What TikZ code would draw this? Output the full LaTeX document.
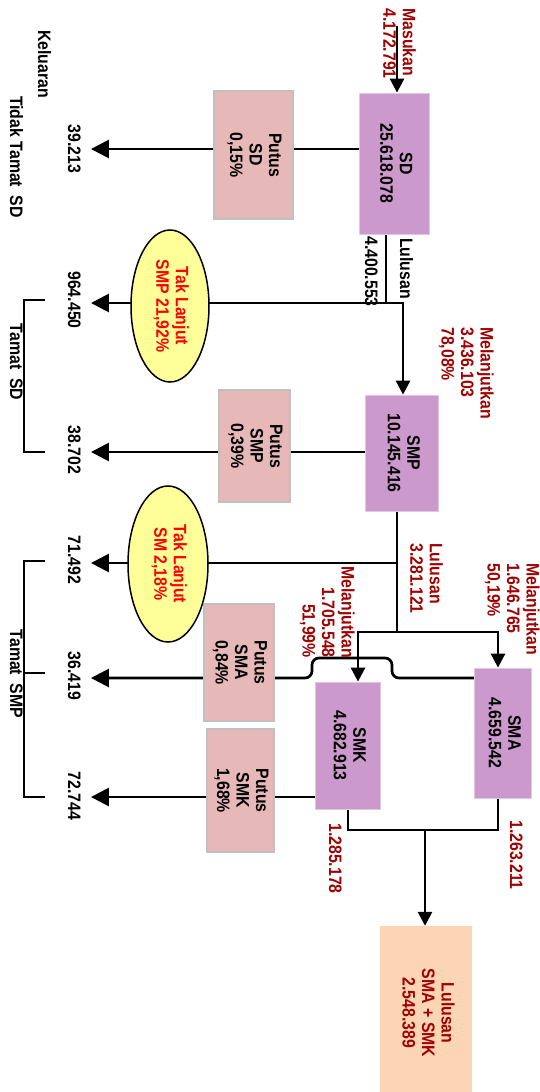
\documentclass[tikz,border=0pt]{standalone}
\usepackage{fontspec}
\setmainfont{Liberation Sans}[FakeStretch=0.88]
\usepackage{graphicx}
\usetikzlibrary{arrows.meta,shapes.geometric}

\definecolor{procfill}{HTML}{CC99CC}
\definecolor{procline}{HTML}{E2C6E2}
\definecolor{putfill}{HTML}{E6B8B7}
\definecolor{putline}{HTML}{C0C0C0}
\definecolor{takfill}{HTML}{FFFF99}
\definecolor{endfill}{HTML}{FCD5B4}
\definecolor{darkred}{HTML}{A00000}

\newcommand{\fs}{\bfseries\fontsize{18}{19.5}\selectfont}
\newcommand{\vtxt}[2][c]{\rotatebox{-90}{\begin{tabular}{@{}#1@{}}#2\end{tabular}}}

\pgfdeclarelayer{bg}
\pgfsetlayers{bg,main}

\tikzset{
  proc/.style={draw=procline, fill=procfill, line width=0.8pt},
  putus/.style={draw=putline, fill=putfill, line width=2pt},
  tak/.style={ellipse, draw, fill=takfill, line width=1.5pt, text=red},
  flow/.style={line width=2.7pt, line cap=rect},
  exit/.style={flow, -{Triangle[length=18pt,width=18pt]}, shorten >=9pt},
  down/.style={flow, -{Triangle[length=14pt,width=14pt]}},
}

\begin{document}
\begin{tikzpicture}[x=1pt, y=-1pt, every node/.style={font=\fs, inner sep=0pt}]
\useasboundingbox (0,0) rectangle (540,1092);

% levels of the flows going left
\coordinate (r1) at (0,149);
\coordinate (r2) at (0,303);
\coordinate (r3) at (0,452);
\coordinate (r4) at (0,563);
\coordinate (r5) at (0,678);
\coordinate (r6) at (0,797);

% schools
\node[proc, minimum width=70, minimum height=141] (sd) at (394,163.5) {\vtxt{SD\\25.618.078}};
\node[proc, minimum width=73, minimum height=116] (smp) at (401.5,453) {\vtxt{SMP\\10.145.416}};
\node[proc, minimum width=57, minimum height=130] (sma) at (502.5,733) {\vtxt{SMA\\4.659.542}};
\node[proc, minimum width=65, minimum height=127] (smk) at (347.5,745.5) {\vtxt{SMK\\4.682.913}};
\node[fill=endfill, minimum width=92, minimum height=174, text=darkred] (lulus) at (426,1013) {\vtxt{Lulusan\\SMA + SMK\\2.548.389}};

% drop outs
\node[putus, minimum width=79, minimum height=128] (psd) at (253.5,155) {\vtxt{Putus\\SD\\0,15\%}};
\node[putus, minimum width=71, minimum height=112] (psmp) at (254.5,446) {\vtxt{Putus\\SMP\\0,39\%}};
\node[putus, minimum width=70, minimum height=117] (psma) at (239,662.5) {\vtxt{Putus\\SMA\\0,84\%}};
\node[putus, minimum width=67, minimum height=123] (psmk) at (240.5,790.5) {\vtxt{Putus\\SMK\\1,68\%}};

\node[tak, minimum width=78, minimum height=152] (tak1) at (170,306) {\vtxt{Tak Lanjut\\SMP 21,92\%}};
\node[tak, minimum width=80, minimum height=156] (tak2) at (168,564) {\vtxt{Tak Lanjut\\SM 2,18\%}};

% outputs on the left
\node (n1) at (72,149) {\vtxt{39.213}};
\node (n2) at (72,300) {\vtxt{964.450}};
\node (n3) at (72,450) {\vtxt{38.702}};
\node (n4) at (72,560) {\vtxt{71.492}};
\node (n5) at (72,676) {\vtxt{36.419}};
\node (n6) at (72,796) {\vtxt{72.744}};

\node[anchor=north] (kel) at (42,30) {\vtxt{Keluaran}};
\node[anchor=north] (ttsd) at (14,96) {\vtxt{Tidak Tamat\ \ SD}};
\node (tsd) at (14,362) {\vtxt{Tamat\ \ SD}};
\node (tsmp) at (14,674) {\vtxt{Tamat\ \ SMP}};

% labels on the flows
\node[anchor=north, text=darkred] (masuk) at (397,8) {\vtxt[l]{Masukan\\4.172.791}};
\node[anchor=north] (lul1) at (404,238) {\vtxt{Lulusan}};
\node[anchor=north] (jml1) at (369,236) {\vtxt{4.400.553}};
\node[anchor=north, text=darkred] (mel1) at (465,327) {\vtxt[l]{Melanjutkan\\3.436.103\\78,08\%}};
\node[anchor=north, text=darkred] (lul2) at (424,543) {\vtxt[l]{Lulusan\\3.281.121}};
\node[anchor=north, text=darkred] (mel2) at (511,563) {\vtxt[l]{Melanjutkan\\1.646.765\\50,19\%}};
\node[anchor=south, text=darkred] (mel3) at (326,658) {\vtxt[r]{Melanjutkan\\1.705.548\\51,99\%}};
\node[anchor=north, text=darkred] (out1) at (333,823) {\vtxt{1.285.178}};
\node[anchor=north, text=darkred] (out2) at (514,820) {\vtxt{1.263.211}};

\coordinate (in) at (397,27);
\coordinate (j1) at (386,303);
\coordinate (j2) at (403,303);
\coordinate (j3) at (397,632);
\coordinate (ka) at (358,632);
\coordinate (kb) at (498,632);
\coordinate (h1) at (392,658);
\coordinate (h2) at (312,658);
\coordinate (kc) at (348,830);
\coordinate (kd) at (498,830);
\coordinate (m) at (425,830);

\begin{pgfonlayer}{bg}
\draw[down] (in) -- (in |- sd.north);
\draw[exit] (sd.west |- r1) -- (r1 -| n1.east);
\draw[flow] (j1 |- sd.south) -- (j1);
\draw[exit] (j2) -- (r2 -| n2.east);
\draw[down] (j2) -- (j2 |- smp.north);
\draw[exit] (smp.west |- r3) -- (r3 -| n3.east);
\draw[flow] (j3 |- smp.south) -- (j3);
\draw[exit] (j3 |- r4) -- (r4 -| n4.east);
\draw[down] (j3) -- (ka) -- (ka |- smk.north);
\draw[down] (j3) -- (kb) -- (kb |- sma.north);
\draw[exit, rounded corners=7pt] (sma.west |- r5) -- (h1 |- r5) -- (h1) -- (h2) -- (h2 |- r5) -- (r5 -| n5.east);
\draw[exit] (smk.west |- r6) -- (r6 -| n6.east);
\draw[flow] (kc |- smk.south) -- (kc) -- (kd) -- (kd |- sma.south);
\draw[down] (m) -- (m |- lulus.north);
\end{pgfonlayer}

% brackets
\draw[line width=2pt] (45,300) -- (24,300) -- (24,452) -- (45,452);
\draw[line width=2pt] (45,561) -- (24,561) -- (24,797) -- (45,797);
\draw[line width=2pt] (24,673) -- (45,673);
\end{tikzpicture}
\end{document}
